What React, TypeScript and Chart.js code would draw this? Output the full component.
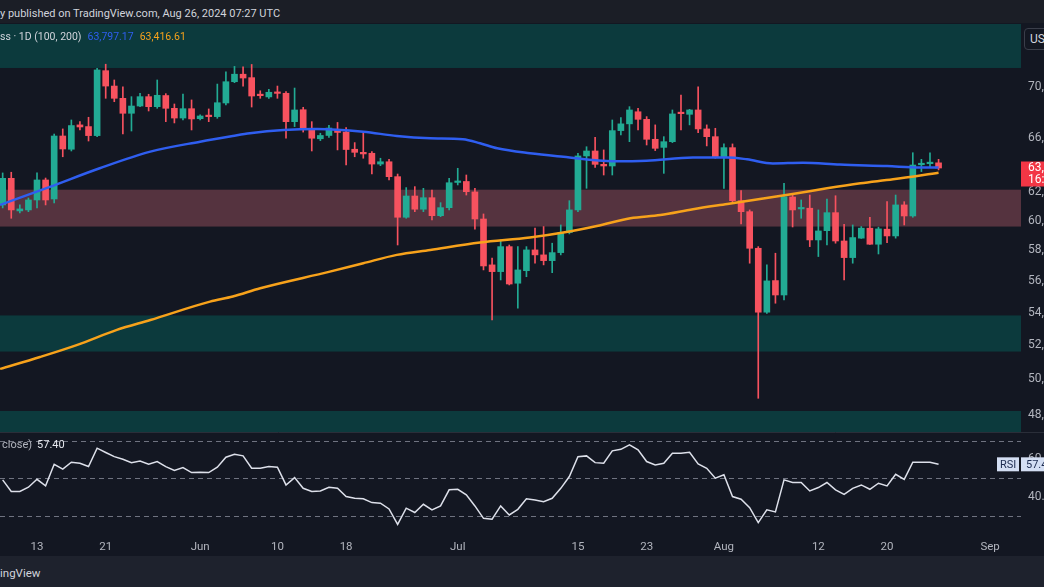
import React, { useEffect, useRef } from 'react';
import { Chart, registerables } from 'chart.js';

Chart.register(...registerables);

// ---------- DATA (prices in thousands of USD; day index: 0 = May 13, 2024) ----------
const firstDay = -4;
const opens = [61.11, 63.01, 60.69, 60.76, 61.46, 62.89, 61.53, 66.15, 65.15, 67.0, 66.87, 66.18, 71.31, 70.06, 69.08, 67.9, 68.47, 69.21, 68.42, 69.3, 68.29, 67.53, 68.26, 67.48, 67.69, 67.64, 68.71, 70.41, 71.02, 70.74, 69.4, 69.19, 69.51, 69.48, 67.25, 68.18, 66.74, 65.94, 66.19, 66.61, 66.45, 65.15, 64.92, 64.85, 64.05, 64.22, 63.13, 60.25, 61.74, 60.81, 61.62, 60.36, 60.92, 62.71, 62.78, 62.03, 60.13, 57.04, 56.6, 58.25, 55.85, 56.66, 58.03, 57.7, 57.32, 57.85, 59.2, 60.76, 64.65, 65.02, 64.03, 63.91, 66.56, 67.08, 68.02, 67.43, 65.9, 65.29, 65.72, 67.92, 67.82, 68.16, 66.69, 66.1, 64.54, 65.27, 61.41, 60.64, 58.14, 54.02, 56.02, 55.1, 61.67, 60.83, 60.88, 58.7, 59.33, 60.57, 58.63, 57.52, 58.82, 59.5, 58.41, 59.43, 58.97, 61.11, 60.34, 64.0, 64.08, 64.14];
const highs = [63.4, 63.45, 61.11, 61.6, 63.4, 63.03, 66.3, 66.69, 67.38, 67.25, 67.59, 71.51, 71.84, 70.55, 70.0, 69.21, 69.48, 69.4, 70.55, 69.45, 68.63, 69.42, 68.95, 67.77, 68.24, 70.22, 71.21, 71.66, 71.62, 71.82, 69.68, 69.79, 70.06, 69.61, 69.9, 68.37, 67.25, 66.36, 66.96, 67.19, 66.8, 65.65, 66.41, 64.97, 64.48, 64.4, 63.32, 62.34, 62.41, 62.29, 62.17, 61.27, 63.01, 63.74, 63.25, 62.29, 60.48, 57.48, 58.7, 58.36, 58.25, 58.25, 59.5, 59.61, 58.48, 59.72, 61.41, 64.85, 65.34, 66.05, 65.1, 67.38, 67.56, 68.42, 68.29, 67.64, 67.0, 66.1, 68.16, 69.34, 68.21, 70.0, 67.0, 66.74, 65.55, 65.55, 62.12, 60.76, 58.25, 57.04, 57.81, 62.65, 61.88, 61.46, 61.81, 60.76, 61.53, 61.76, 59.77, 59.72, 59.61, 60.25, 59.57, 61.34, 61.81, 61.34, 64.89, 64.4, 64.89, 64.4];
const lows = [60.9, 60.18, 60.55, 60.64, 60.9, 61.11, 61.25, 64.59, 65.02, 66.61, 65.77, 66.1, 69.08, 68.81, 66.3, 66.53, 68.42, 68.08, 68.29, 67.25, 67.15, 67.38, 66.61, 67.38, 67.25, 67.51, 68.55, 70.33, 70.06, 68.39, 69.08, 69.08, 69.08, 65.98, 66.87, 66.45, 65.02, 65.8, 66.05, 65.1, 63.98, 64.59, 64.48, 63.32, 63.93, 62.89, 58.36, 60.18, 60.64, 60.64, 60.06, 60.29, 60.76, 62.53, 61.81, 59.43, 56.71, 53.54, 56.06, 55.74, 54.27, 56.27, 57.15, 57.04, 56.53, 57.7, 59.11, 60.64, 62.29, 63.81, 63.25, 63.25, 66.23, 65.72, 66.61, 65.47, 65.05, 63.37, 65.65, 66.61, 67.0, 66.41, 65.4, 64.48, 62.29, 61.34, 59.79, 57.15, 48.93, 53.95, 54.58, 54.79, 59.58, 60.18, 58.25, 57.59, 58.36, 58.48, 56.06, 57.15, 58.8, 58.4, 57.76, 58.52, 58.82, 59.72, 60.25, 63.5, 63.86, 63.62];
const closes = [63.01, 60.76, 60.83, 61.46, 62.89, 61.46, 66.15, 65.17, 66.95, 66.84, 66.18, 71.37, 70.06, 69.08, 67.9, 68.47, 69.21, 68.42, 69.32, 68.29, 67.53, 68.26, 67.46, 67.69, 67.64, 68.73, 70.41, 71.02, 70.71, 69.26, 69.29, 69.56, 69.47, 67.25, 68.16, 66.74, 65.98, 66.19, 66.76, 66.42, 65.13, 64.92, 64.8, 64.05, 64.22, 63.13, 60.25, 61.74, 60.81, 61.62, 60.36, 60.92, 62.69, 62.78, 62.05, 60.13, 56.97, 56.6, 58.25, 55.8, 56.71, 58.03, 57.7, 57.32, 57.85, 59.2, 60.76, 64.65, 65.02, 64.03, 63.91, 66.56, 67.08, 68.16, 67.43, 65.9, 65.22, 65.72, 67.85, 67.87, 68.16, 66.69, 66.1, 64.54, 65.27, 61.41, 60.64, 58.14, 54.02, 56.0, 55.1, 61.69, 60.76, 60.88, 58.7, 59.31, 60.57, 58.63, 57.52, 58.86, 59.5, 58.41, 59.45, 58.97, 61.11, 60.34, 63.98, 64.05, 64.12, 63.76];
const rsiValues = [49.1, 42.9, 42.9, 45.2, 49.4, 45.9, 57.4, 54.8, 58.5, 58.0, 56.2, 66.0, 63.7, 61.5, 60.1, 58.3, 59.2, 57.4, 58.9, 56.2, 54.1, 55.7, 53.0, 53.2, 53.0, 55.9, 61.2, 62.8, 61.9, 55.3, 55.3, 56.2, 55.9, 46.4, 50.3, 44.6, 42.9, 43.2, 45.2, 44.6, 40.2, 39.3, 39.0, 37.0, 36.7, 33.6, 25.4, 34.0, 31.7, 36.1, 33.1, 35.2, 43.8, 44.1, 41.1, 35.2, 28.6, 28.1, 35.2, 30.4, 33.4, 39.0, 38.4, 37.5, 39.3, 44.6, 50.9, 61.5, 61.9, 58.3, 58.0, 64.6, 65.4, 67.8, 65.1, 58.9, 57.1, 58.0, 63.3, 63.3, 63.8, 57.6, 55.3, 50.0, 51.8, 40.2, 38.8, 34.3, 26.3, 33.1, 32.0, 49.1, 47.7, 47.7, 43.2, 45.0, 47.7, 43.8, 41.4, 44.6, 46.4, 44.1, 47.3, 45.9, 52.1, 49.4, 58.5, 58.5, 58.5, 57.4];

// moving averages at a few days
const ma100Days = [-4.3, 1.5, 7.3, 13.2, 19, 22.8, 24.8, 28.7, 32.6, 38, 41.9, 45.8, 49.6, 51.6, 53.6, 57.4, 61.3, 67.1, 71, 76.4, 80.4, 82.7, 85.7, 89.2, 93.5, 99, 102.8, 105];
const ma100Values = [61.11, 62.39, 63.74, 64.97, 65.72, 66.15, 66.36, 66.61, 66.69, 66.48, 66.15, 65.98, 65.9, 65.6, 65.22, 64.85, 64.59, 64.26, 64.3, 64.54, 64.54, 64.4, 64.1, 64.15, 64.01, 63.9, 63.8, 63.8];
const ma200Days = [-4.3, 0.35, 4.7, 9.3, 13.2, 20.15, 22.8, 26, 34.1, 38, 41.9, 45.8, 51.6, 57.4, 61.3, 65.2, 69.1, 72.6, 76.4, 80.4, 84.2, 88, 92, 95.9, 99.7, 105];
const ma200Values = [50.61, 51.31, 52.03, 52.93, 53.54, 54.68, 55.0, 55.53, 56.6, 57.15, 57.7, 58.03, 58.52, 58.86, 59.2, 59.65, 60.18, 60.4, 60.81, 61.18, 61.53, 61.88, 62.29, 62.65, 62.94, 63.42];

// zones (price ranges)
const zoneLows = [71.53, 59.61, 51.63, 30];
const zoneHighs = [90, 62.19, 53.82, 48.22];

const priceTicks = [70, 66, 62, 60, 58, 56, 54, 52, 50, 48];
const rsiTicks = [60, 40];
const rsiLevels = [70, 50, 30];
const tickDays = [0, 8, 19, 28, 36, 49, 63, 71, 80, 91, 99, 111];
const tickLabels = ['13', '21', 'Jun', '10', '18', 'Jul', '15', '23', 'Aug', '12', '20', 'Sep'];

const lastPriceText = '63,759.60';
const countdownText = '16:32:27';
const rsiLast = 57.4;

// ---------- STYLE ----------
const GREEN = '#22ab94';
const RED = '#f7525f';
const zoneColors = ['#0c3a3d', '#55333f', '#0c3a3d', '#0c3a3d'];
const FONT = "Roboto, 'Liberation Sans', sans-serif";
const CANVAS_W = 1114;
const CANVAS_H = 532;
const AXIS_W = 93;

const fmtPrice = (v: number) =>
  (v * 1000).toLocaleString('en-US', { minimumFractionDigits: 2, maximumFractionDigits: 2 });

const noPadV = (s: any) => {
  s.width = AXIS_W;
  s.paddingTop = 0;
  s.paddingBottom = 0;
};

const overlayPlugin = {
  id: 'overlay',
  beforeDatasetsDraw(chart: any) {
    const { ctx, chartArea } = chart;
    const ys = chart.scales.y;
    const rs = chart.scales.rsi;
    ctx.save();
    zoneLows.forEach((lo, i) => {
      const top = Math.max(ys.top, ys.getPixelForValue(zoneHighs[i]));
      const bottom = Math.min(ys.bottom, ys.getPixelForValue(lo));
      if (bottom > top) {
        ctx.fillStyle = zoneColors[i];
        ctx.fillRect(chartArea.left, top, chartArea.right - chartArea.left, bottom - top);
      }
    });
    ctx.strokeStyle = '#6f7380';
    ctx.lineWidth = 1;
    ctx.setLineDash([5, 4]);
    rsiLevels.forEach((l) => {
      const y = Math.round(rs.getPixelForValue(l)) + 0.5;
      ctx.beginPath();
      ctx.moveTo(chartArea.left, y);
      ctx.lineTo(chartArea.right, y);
      ctx.stroke();
    });
    ctx.setLineDash([]);
    ctx.strokeStyle = '#2a2e39';
    const sy = Math.round(rs.top) + 0.5;
    ctx.beginPath();
    ctx.moveTo(0, sy);
    ctx.lineTo(chart.width, sy);
    ctx.stroke();
    ctx.restore();
  },
  afterDraw(chart: any) {
    const { ctx, chartArea } = chart;
    const ys = chart.scales.y;
    const rs = chart.scales.rsi;
    ctx.save();
    // last price label
    const py = ys.getPixelForValue(closes[closes.length - 1]);
    ctx.fillStyle = '#f23645';
    ctx.fillRect(chartArea.right, py - 6.5, chart.width - chartArea.right, 25);
    ctx.fillStyle = '#ffffff';
    ctx.font = `12px ${FONT}`;
    ctx.textBaseline = 'middle';
    ctx.textAlign = 'left';
    ctx.fillText(lastPriceText, chartArea.right + 7, py);
    ctx.fillText(countdownText, chartArea.right + 7, py + 12);
    // RSI badge
    const ry = rs.getPixelForValue(rsiLast);
    ctx.fillStyle = '#d3def3';
    ctx.fillRect(chartArea.right - 24, ry - 7, 22, 14);
    ctx.fillRect(chartArea.right, ry - 7, chart.width - chartArea.right, 14);
    ctx.fillStyle = '#1c2b4f';
    ctx.font = `11px ${FONT}`;
    ctx.fillText('RSI', chartArea.right - 21, ry + 0.5);
    ctx.fillText(rsiLast.toFixed(2), chartArea.right + 5, ry + 0.5);
    ctx.restore();
  },
};

export default function App() {
  const ref = useRef<HTMLCanvasElement>(null);

  useEffect(() => {
    document.body.style.margin = '0';
    document.body.style.background = '#131722';
    const days = opens.map((_, i) => firstDay + i);
    const colors = opens.map((o, i) => (closes[i] >= o ? GREEN : RED));
    Chart.defaults.font.family = FONT;

    const chart = new Chart(ref.current as HTMLCanvasElement, {
      type: 'bar',
      data: {
        datasets: [
          {
            type: 'line',
            label: 'MA100',
            data: ma100Days.map((d, i) => ({ x: d, y: ma100Values[i] })),
            yAxisID: 'y',
            borderColor: '#2f5ef0',
            borderWidth: 2.5,
            pointRadius: 0,
            cubicInterpolationMode: 'monotone',
            order: 0,
          } as any,
          {
            type: 'line',
            label: 'MA200',
            data: ma200Days.map((d, i) => ({ x: d, y: ma200Values[i] })),
            yAxisID: 'y',
            borderColor: '#f7a21b',
            borderWidth: 2.5,
            pointRadius: 0,
            cubicInterpolationMode: 'monotone',
            order: 0,
          } as any,
          {
            type: 'bar',
            label: 'body',
            data: days.map((d, i) => ({ x: d, y: [opens[i], closes[i]] })),
            yAxisID: 'y',
            backgroundColor: colors,
            barThickness: 6,
            minBarLength: 1.5,
            grouped: false,
            borderWidth: 0,
            order: 1,
          } as any,
          {
            type: 'bar',
            label: 'wick',
            data: days.map((d, i) => ({ x: d, y: [lows[i], highs[i]] })),
            yAxisID: 'y',
            backgroundColor: colors,
            barThickness: 1,
            grouped: false,
            borderWidth: 0,
            order: 2,
          } as any,
          {
            type: 'line',
            label: 'RSI',
            data: days.map((d, i) => ({ x: d, y: rsiValues[i] })),
            yAxisID: 'rsi',
            borderColor: '#dde0ea',
            borderWidth: 1.5,
            pointRadius: 0,
            tension: 0,
            order: 0,
          } as any,
        ],
      },
      options: {
        animation: false,
        responsive: false,
        maintainAspectRatio: false,
        layout: { padding: { top: 0, left: 0, right: 0, bottom: 0 } },
        plugins: { legend: { display: false }, tooltip: { enabled: false } },
        events: [],
        scales: {
          x: {
            type: 'linear',
            min: -4.31,
            max: 114.6,
            offset: false,
            grid: { display: false, drawTicks: false, offset: false },
            border: { display: false },
            afterBuildTicks: (s: any) => {
              s.ticks = tickDays.map((v) => ({ value: v }));
            },
            afterFit: (s: any) => {
              s.height = 26;
              s.paddingLeft = 0;
              s.paddingRight = 0;
            },
            ticks: {
              autoSkip: false,
              maxRotation: 0,
              minRotation: 0,
              padding: 10,
              color: '#b2b5be',
              font: { size: 11.5 },
              callback: (_v: any, i: number) => tickLabels[i],
            },
          },
          y: {
            type: 'logarithmic',
            position: 'right',
            stack: 'pane',
            stackWeight: 408,
            weight: 0,
            min: 47.07,
            max: 75.24,
            grid: { display: false, drawTicks: false },
            border: { display: false },
            afterBuildTicks: (s: any) => {
              s.ticks = priceTicks.map((v) => ({ value: v }));
            },
            afterFit: noPadV,
            ticks: {
              padding: 7,
              color: '#b2b5be',
              font: { size: 12 },
              callback: (v: any) => fmtPrice(Number(v)),
            },
          },
          rsi: {
            type: 'linear',
            position: 'right',
            stack: 'pane',
            stackWeight: 98,
            weight: 1,
            min: 22.37,
            max: 74.64,
            grid: { display: false, drawTicks: false },
            border: { display: false },
            afterBuildTicks: (s: any) => {
              s.ticks = rsiTicks.map((v) => ({ value: v }));
            },
            afterFit: noPadV,
            ticks: {
              padding: 7,
              color: '#b2b5be',
              font: { size: 12 },
              callback: (v: any) => Number(v).toFixed(2),
            },
          },
        },
      } as any,
      plugins: [overlayPlugin],
    });
    return () => chart.destroy();
  }, []);

  const textBase: React.CSSProperties = {
    position: 'absolute',
    whiteSpace: 'nowrap',
    fontFamily: FONT,
  };

  return (
    <div
      style={{
        position: 'relative',
        width: 1044,
        height: 587,
        overflow: 'hidden',
        background: '#131722',
        fontFamily: FONT,
      }}
    >
      <div
        style={{
          ...textBase,
          left: 0,
          top: 0,
          width: 1044,
          height: 23,
          background: '#1b1e26',
          color: '#d1d4dc',
          fontSize: 11,
          lineHeight: '27px',
        }}
      >
        y published on TradingView.com, Aug 26, 2024 07:27 UTC
      </div>
      <div style={{ position: 'absolute', left: 0, top: 24, width: CANVAS_W, height: CANVAS_H }}>
        <canvas
          ref={ref}
          width={CANVAS_W}
          height={CANVAS_H}
          style={{ width: CANVAS_W, height: CANVAS_H, display: 'block' }}
        />
      </div>
      <div style={{ ...textBase, left: 0, top: 30, fontSize: 10.5, lineHeight: '13px', color: '#d1d4dc' }}>
        <span>ss · 1D (100, 200)</span>
        <span style={{ color: '#2f5ef0', marginLeft: 6 }}>63,797.17</span>
        <span style={{ color: '#f7a21b', marginLeft: 6 }}>63,416.61</span>
      </div>
      <div style={{ ...textBase, left: 2, top: 438, fontSize: 11, lineHeight: '14px', color: '#b2b5be' }}>
        <span>close)</span>
        <span style={{ color: '#e6e8ee', marginLeft: 5 }}>57.40</span>
      </div>
      <div
        style={{
          ...textBase,
          left: 1024,
          top: 28,
          width: 40,
          height: 20,
          border: '1px solid #3a3e4a',
          borderRadius: 4,
          color: '#d1d4dc',
          fontSize: 12,
          lineHeight: '20px',
          paddingLeft: 5,
          background: '#131722',
        }}
      >
        USD
      </div>
      <div
        style={{
          ...textBase,
          left: 0,
          top: 556,
          width: 1044,
          height: 31,
          background: '#1e222d',
          color: '#d1d4dc',
          fontSize: 11.5,
          lineHeight: '34px',
        }}
      >
        ingView
      </div>
    </div>
  );
}
